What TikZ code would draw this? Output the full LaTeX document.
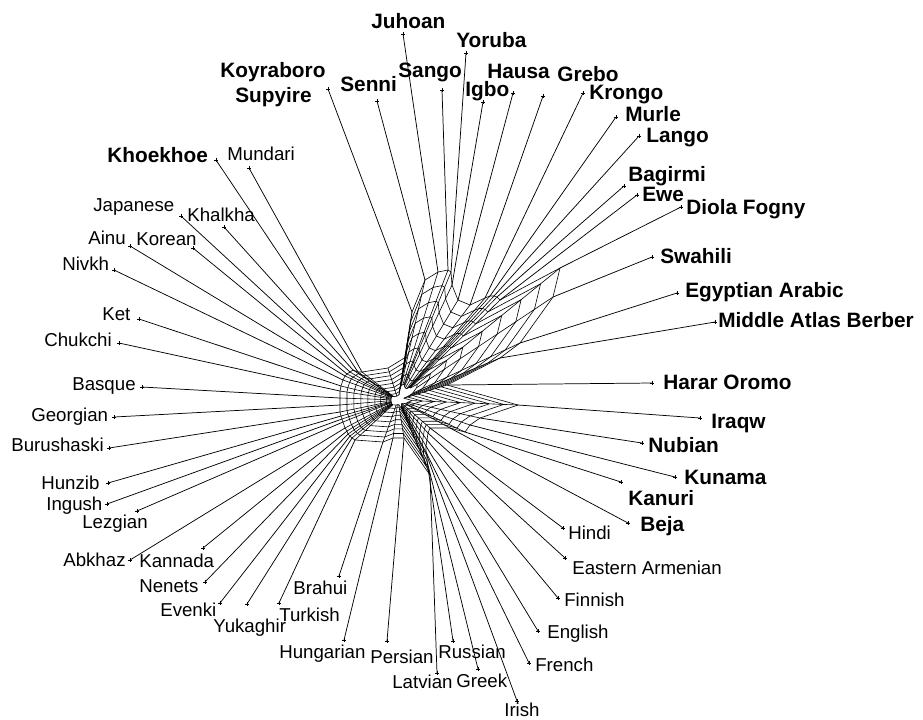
\documentclass[tikz,border=0pt]{standalone}
\usepackage{fontspec}
\setmainfont{Liberation Sans}
\usetikzlibrary{calc}
\begin{document}
\begin{tikzpicture}[x=0.75pt,y=-0.75pt,line width=0.5pt,
 lab/.style={anchor=base west,inner sep=0pt,font=\fontsize{14}{16}\selectfont},
 blab/.style={anchor=base west,inner sep=0pt,font=\fontsize{15.6}{18}\selectfont\bfseries},
 leafmark/.pic={\draw[line width=0.6pt] (-2.2,0)--(2.2,0) (0,-2.2)--(0,2.2);},
 web/.style={line width=0.45pt,line join=round},
 pend/.style={line width=0.55pt}]
\useasboundingbox (0,0) rectangle (923,719);
\coordinate (C) at (398,400);
% leaves: name / leaf point / attachment point on the network
\foreach \n/\lx/\ly/\ax/\ay [count=\i] in {
 Koy/328/89/412/312, Sen/377/101/425/280, Juh/403/34/438/272, San/442/90/448/270,
 Yor/466/53/451/272, Igb/483/102/452/285, Hau/513/93/458/300, Gre/543/96/470/305,
 Kro/583/93/485/298, Mur/616/117/490/296, Lan/639/136/494/296, Bag/624/186/497/297,
 Ewe/637/195/500/300, Dio/681/207/560/268, Swa/652/257/553/297, EAr/677/293/520/343,
 MAB/715/322/500/358, Har/652/383/447/385, Ira/700/418/518/405, Nub/642/443/480/418,
 Kun/675/477/470/425, Knr/621/482/465/432, Bej/628/523/450/428, Hin/563/528/430/428,
 EAm/565/558/428/433, Fin/558/598/427/440, Eng/538/631/426/446, Fre/529/663/426/452,
 Iri/517/701/427/456, Gree/478/669/427/461, Rus/453/641/428/468, Lat/437/673/430/475,
 Per/387/641/404/438, Hng/344/640/393/438, Bra/339/576/383/442, Tur/279/603/355/440,
 Yuk/247/604/352/438, Eve/220/603/350/436, Nen/205/582/348/434, Kda/203/548/347/431,
 Abk/130/560/345/428, Lez/137/511/343/422, Ing/107/504/342/419, Hzb/108/483/341/416,
 Bur/109/448/340/412, Geo/114/417/340/405, Bas/142/387/340/398, Chu/119/343/340/391,
 Ket/139/319/341/386, Niv/114/270/343/380, Ain/130/246/345/376, Kor/193/248/347/374,
 Jap/181/216/350/372, Kha/224/227/353/370, Kho/216/160/358/372, Mun/249/168/362/372}
{ \coordinate (l-\n) at (\lx,\ly); \coordinate (w\i) at (\ax,\ay);
  \draw[pend] (l-\n) -- (w\i);
  \pic at (l-\n) {leafmark}; }
\coordinate (w57) at (388,368);
\coordinate (w58) at (406,357);
% network rings
\foreach \rr in {0,0.12,0.24,0.36,0.48,0.6,0.7,0.8,0.88}{
  \draw[web] ($(w1)!\rr!(C)$) \foreach \i in {2,...,58}{ -- ($(w\i)!\rr!(C)$) } -- cycle;
}
\foreach \i in {1,...,58}{ \draw[web] (w\i) -- ($(w\i)!0.88!(C)$); }
% labels
\node[blab] (t-Juh) at (371,28) {Juhoan};
\node[blab] (t-Yor) at (456,47) {Yoruba};
\node[blab] (t-San) at (398,77) {Sango};
\node[blab] (t-Sen) at (340,91) {Senni};
\node[blab] (t-Koy) at (220,77) {Koyraboro};
\node[blab] (t-Sup) at (235,102) {Supyire};
\node[blab] (t-Igb) at (465,96) {Igbo};
\node[blab] (t-Hau) at (487,78) {Hausa};
\node[blab] (t-Gre) at (557,81) {Grebo};
\node[blab] (t-Kro) at (589,99) {Krongo};
\node[blab] (t-Mur) at (625,121) {Murle};
\node[blab] (t-Lan) at (646,142) {Lango};
\node[blab] (t-Bag) at (628,181) {Bagirmi};
\node[blab] (t-Ewe) at (642,201) {Ewe};
\node[blab] (t-Dio) at (686,214) {Diola Fogny};
\node[blab] (t-Swa) at (660,263) {Swahili};
\node[blab] (t-EAr) at (685,297) {Egyptian Arabic};
\node[blab] (t-MAB) at (718,327) {Middle Atlas Berber};
\node[blab] (t-Har) at (663,389) {Harar Oromo};
\node[blab] (t-Ira) at (711,428) {Iraqw};
\node[blab] (t-Nub) at (648,452) {Nubian};
\node[blab] (t-Kun) at (684,484) {Kunama};
\node[blab] (t-Knr) at (628,505) {Kanuri};
\node[blab] (t-Bej) at (640,531) {Beja};
\node[lab] (t-Hin) at (568,539) {Hindi};
\node[lab] (t-EAm) at (572,574) {Eastern Armenian};
\node[lab] (t-Fin) at (564,606) {Finnish};
\node[lab] (t-Eng) at (547,638) {English};
\node[lab] (t-Fre) at (535,671) {French};
\node[lab] (t-Iri) at (504,716) {Irish};
\node[lab] (t-Gree) at (456,687) {Greek};
\node[lab] (t-Rus) at (438,658) {Russian};
\node[lab] (t-Lat) at (392,688) {Latvian};
\node[lab] (t-Per) at (370,663) {Persian};
\node[lab] (t-Hng) at (279,658) {Hungarian};
\node[lab] (t-Bra) at (293,594) {Brahui};
\node[lab] (t-Tur) at (279,621) {Turkish};
\node[lab] (t-Yuk) at (213,632) {Yukaghir};
\node[lab] (t-Eve) at (160,616) {Evenki};
\node[lab] (t-Nen) at (139,592) {Nenets};
\node[lab] (t-Kda) at (139,567) {Kannada};
\node[lab] (t-Abk) at (63,566) {Abkhaz};
\node[lab] (t-Lez) at (82,528) {Lezgian};
\node[lab] (t-Ing) at (46,510) {Ingush};
\node[lab] (t-Hzb) at (41,489) {Hunzib};
\node[lab] (t-Bur) at (11,451) {Burushaski};
\node[lab] (t-Geo) at (31,421) {Georgian};
\node[lab] (t-Bas) at (72,390) {Basque};
\node[lab] (t-Chu) at (44,346) {Chukchi};
\node[lab] (t-Ket) at (102,320) {Ket};
\node[lab] (t-Niv) at (62,270) {Nivkh};
\node[lab] (t-Ain) at (88,244) {Ainu};
\node[lab] (t-Kor) at (136,245) {Korean};
\node[lab] (t-Jap) at (93,211) {Japanese};
\node[lab] (t-Kha) at (187,221) {Khalkha};
\node[blab] (t-Kho) at (107,162) {Khoekhoe};
\node[lab] (t-Mun) at (227,160) {Mundari};
\end{tikzpicture}
\end{document}
